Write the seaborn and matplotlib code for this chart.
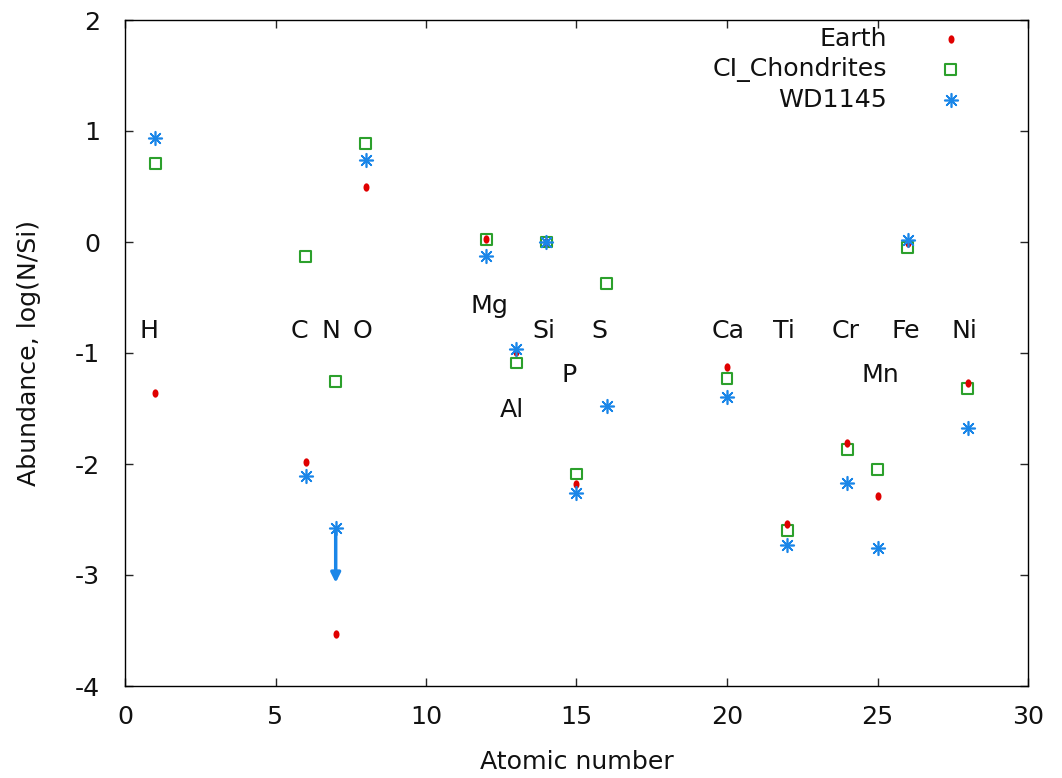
import matplotlib
matplotlib.use("Agg")
import matplotlib.pyplot as plt
import seaborn as sns
import pandas as pd
import numpy as np
from matplotlib.path import Path

sns.set_theme(style="ticks")
plt.rcParams['font.family'] = ['DejaVu Sans']
plt.rcParams['axes.unicode_minus'] = False

# Atomic numbers and abundances log(N/Si)
earth_z = [1, 6, 7, 8, 12, 13, 14, 15, 20, 22, 24, 25, 26, 28]
earth_v = [-1.36, -1.98, -3.53, 0.50, 0.03, -0.99, 0.0, -2.18, -1.13, -2.54, -1.81, -2.29, -0.01, -1.27]

ci_z = [1, 6, 7, 8, 12, 13, 14, 15, 16, 20, 22, 24, 25, 26, 28]
ci_v = [0.71, -0.13, -1.26, 0.89, 0.02, -1.09, 0.0, -2.09, -0.37, -1.23, -2.60, -1.87, -2.05, -0.05, -1.32]

wd_z = [1, 6, 7, 8, 12, 13, 14, 15, 16, 20, 22, 24, 25, 26, 28]
wd_v = [0.94, -2.11, -2.58, 0.74, -0.13, -0.96, 0.0, -2.26, -1.48, -1.40, -2.73, -2.17, -2.76, 0.02, -1.68]

# Upper-limit arrow (N)
limit_z = 7
limit_from = -2.58
limit_to = -3.07

labels = ["H", "C", "N", "O", "Mg", "Si", "S", "Al", "P", "Ca", "Ti", "Cr", "Fe", "Ni", "Mn"]
label_x = [0.8, 5.8, 6.85, 7.9, 12.1, 13.9, 15.75, 12.85, 14.75, 20.05, 21.9, 23.95, 25.95, 27.9, 25.1]
label_y = [-0.8, -0.8, -0.8, -0.8, -0.58, -0.8, -0.8, -1.51, -1.2, -0.8, -0.8, -0.8, -0.8, -0.8, -1.2]

red = "#e00000"
green = "#2ca02c"
blue = "#1a86e8"

FS = 18.2

# tall ellipse marker for Earth
t = np.linspace(0, 2 * np.pi, 40)
ell = Path(np.column_stack([0.72 * np.cos(t), np.sin(t)]), closed=True)

fig = plt.figure(figsize=(10.62, 7.78), dpi=100)
ax = fig.add_axes([125/1062, 92/778, 903/1062, 666/778])

df_ci = pd.DataFrame({"z": ci_z, "v": ci_v})
df_e = pd.DataFrame({"z": earth_z, "v": earth_v})
df_wd = pd.DataFrame({"z": wd_z, "v": wd_v})

sns.scatterplot(data=df_ci, x="z", y="v", ax=ax, marker="s", s=62,
                facecolor="none", edgecolor=green, linewidth=1.5, label="CI_Chondrites", zorder=3)
sns.scatterplot(data=df_e, x="z", y="v", ax=ax, marker=ell, s=36,
                color=red, edgecolor=red, linewidth=0, label="Earth", zorder=4)
sns.scatterplot(data=df_wd, x="z", y="v", ax=ax, marker=(8, 2, 0), s=95,
                color=blue, linewidth=1.2, label="WD1145", zorder=5)

ax.annotate("", xy=(limit_z, limit_to), xytext=(limit_z, limit_from),
            arrowprops=dict(arrowstyle="-|>", color=blue, lw=2.5, mutation_scale=14,
                            shrinkA=0, shrinkB=0), zorder=4)

for tx, x, y in zip(labels, label_x, label_y):
    ax.text(x, y, tx, fontsize=FS, ha="center", va="center", color="#111111")

ax.set_xlim(0, 30)
ax.set_ylim(-4, 2)
ax.set_xticks(range(0, 31, 5))
ax.set_yticks(range(-4, 3, 1))
ax.tick_params(direction="in", length=6, width=1, top=True, right=True,
               labelsize=FS, labelcolor="#111111")
ax.tick_params(axis="x", pad=14)
ax.tick_params(axis="y", pad=18)
for s in ax.spines.values():
    s.set_linewidth(1.0)
    s.set_color("black")
ax.set_xlabel("Atomic number", fontsize=FS, labelpad=15, color="#111111")
ax.set_ylabel("Abundance, log(N/Si)", fontsize=FS, labelpad=24, color="#111111")

h, l = ax.get_legend_handles_labels()
order = [l.index("Earth"), l.index("CI_Chondrites"), l.index("WD1145")]
ax.legend([h[i] for i in order], [l[i] for i in order], loc="upper right",
          bbox_to_anchor=(0.9535, 1.005), borderaxespad=0,
          markerfirst=False, frameon=False, fontsize=FS, handletextpad=1.5,
          handlelength=2.0, labelspacing=0.24)
for txt in ax.get_legend().get_texts():
    txt.set_color("#111111")

fig.savefig("out.png", dpi=100)
